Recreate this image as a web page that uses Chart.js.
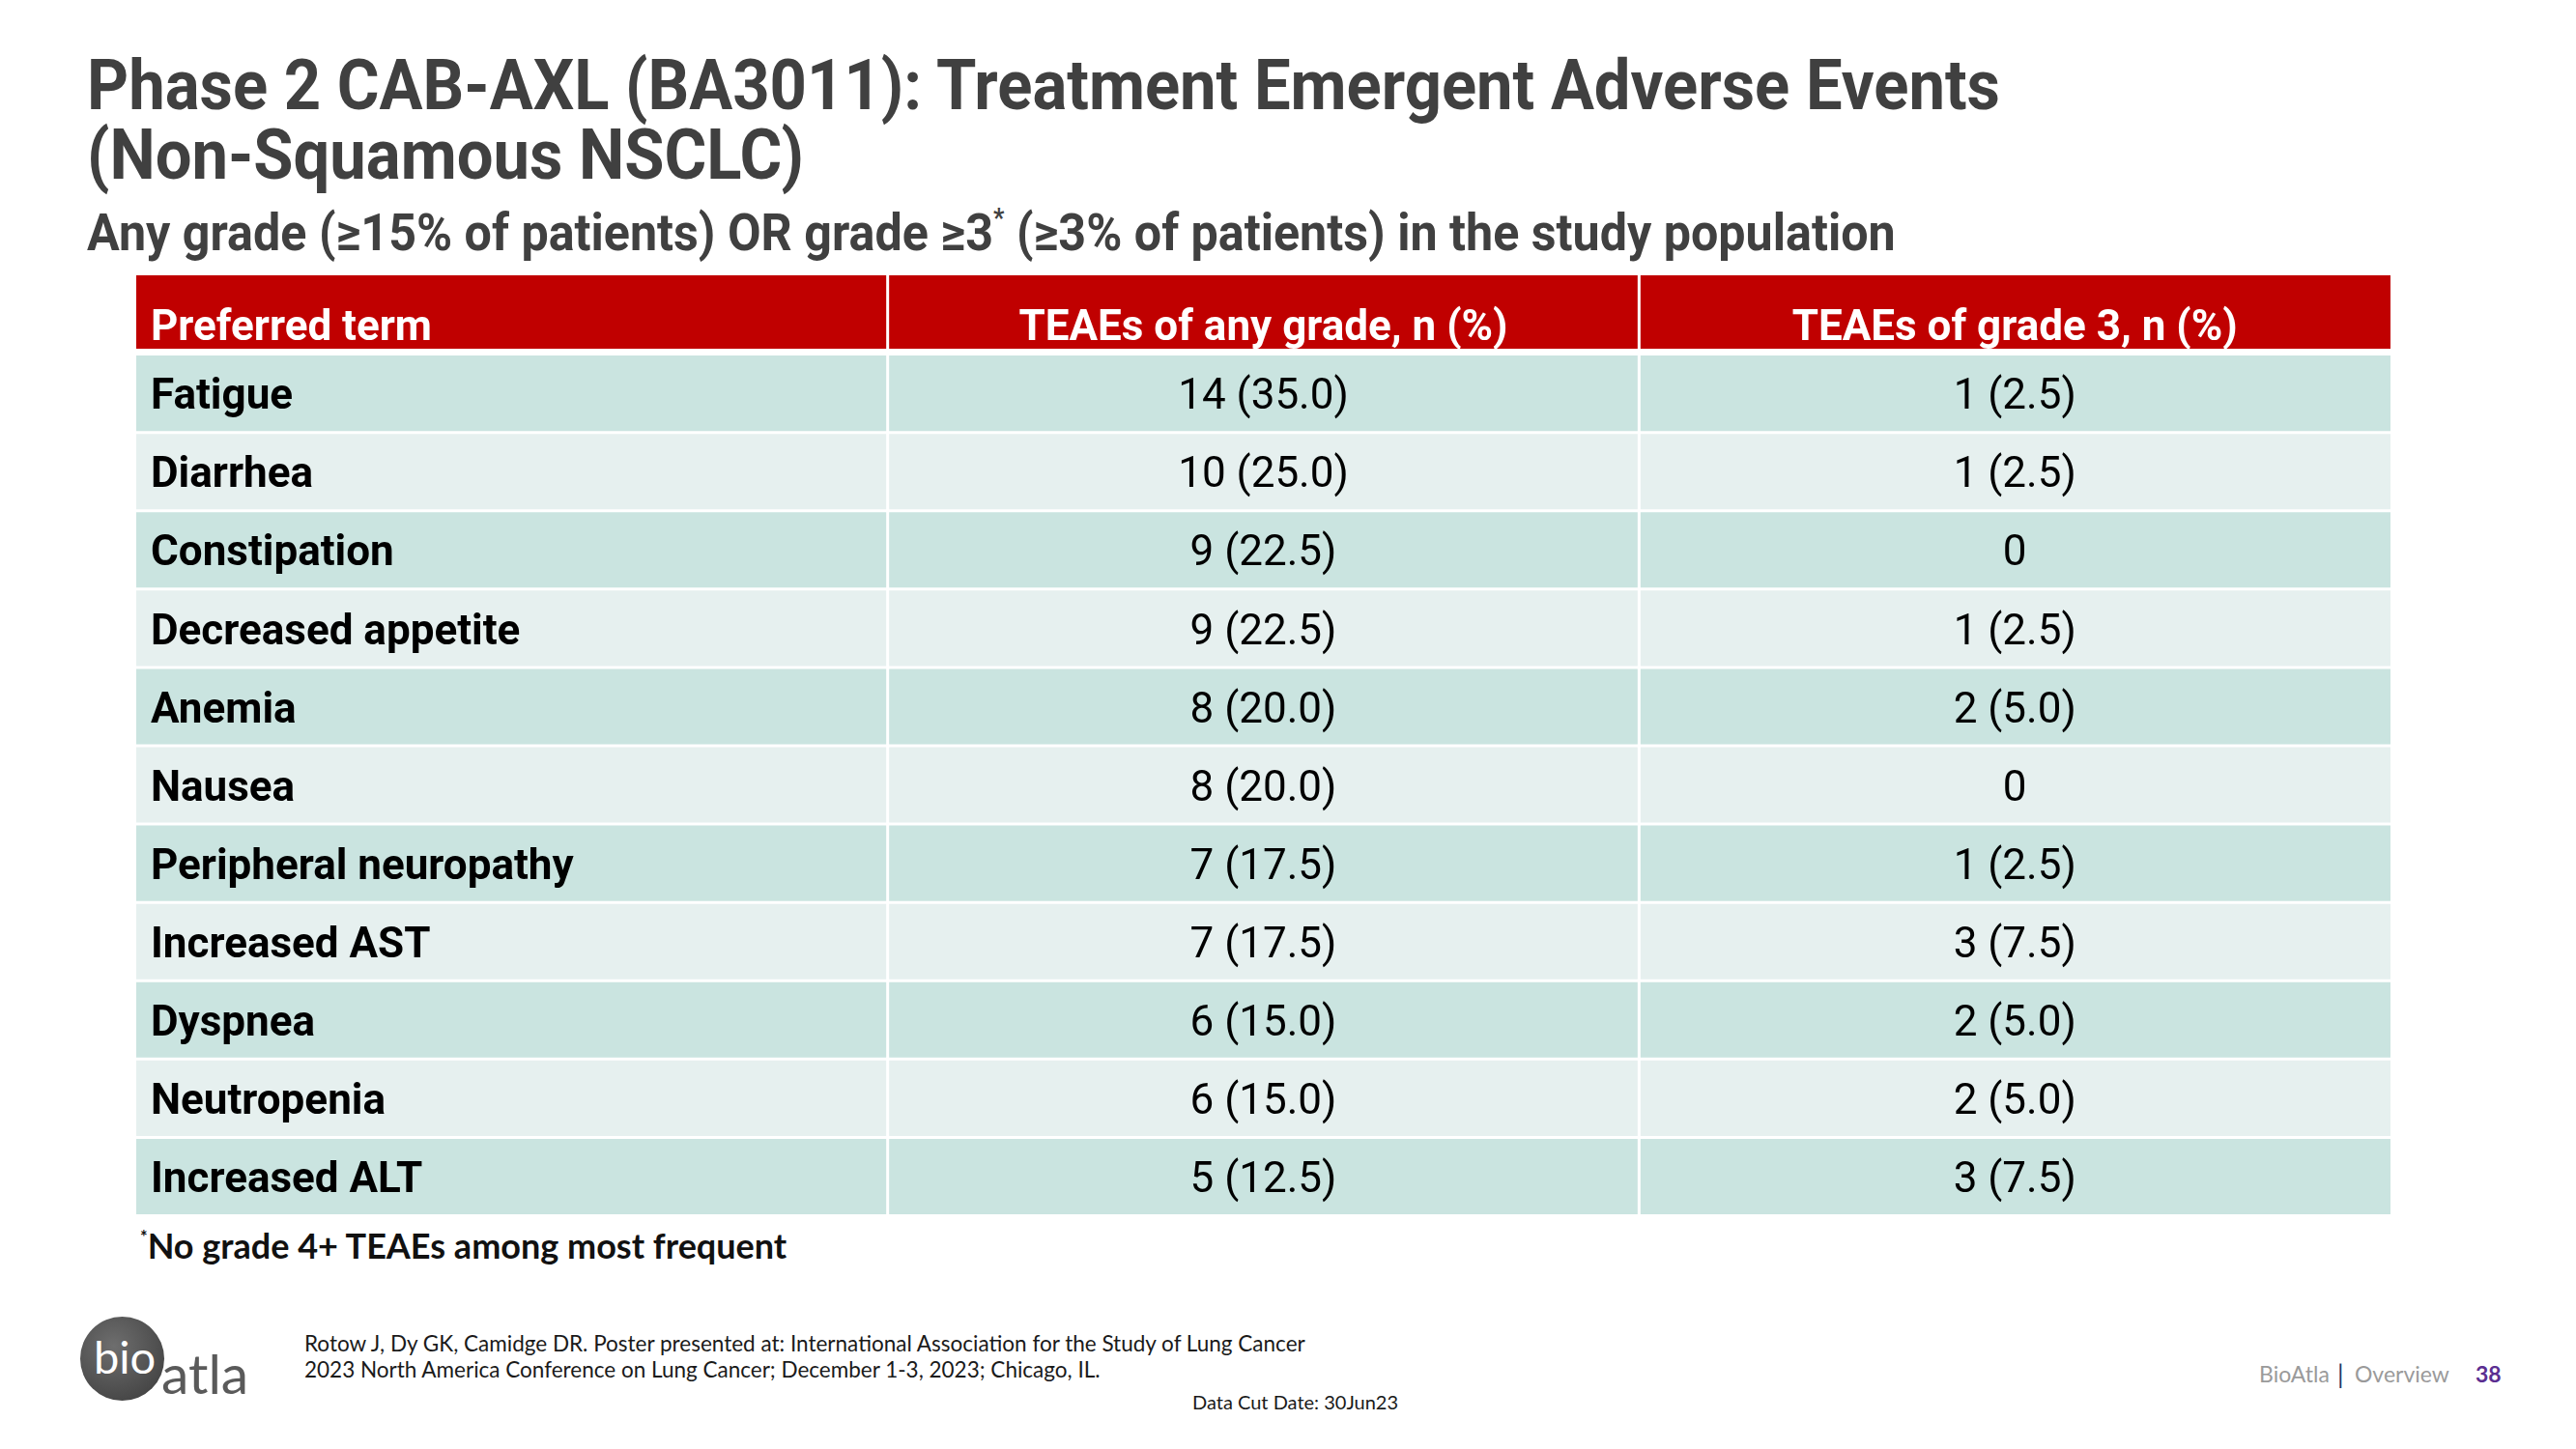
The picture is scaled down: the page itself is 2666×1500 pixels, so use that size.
<!DOCTYPE html>
<html>
<head>
<meta charset="utf-8">
<script src="https://cdn.jsdelivr.net/npm/chart.js@4.4.1/dist/chart.umd.min.js"></script>
<style>
  html, body { margin: 0; padding: 0; background: #fff; }
  body { width: 2666px; height: 1500px; position: relative; overflow: hidden; }
  .abs { position: absolute; white-space: nowrap; }
  .title { font-family: Roboto, sans-serif; font-weight: 700; color: #404040; line-height: normal;
           transform: scaleX(0.93); transform-origin: left top; }
  .foot { font-family: Lato, sans-serif; color: #1a1a1a; line-height: normal; }
  sup { font-size: 0.5em; vertical-align: 0; position: relative; top: -0.9em; }
</style>
</head>
<body>
<div class="abs title" style="left:90px; top:46px; font-size:72px;">Phase 2 CAB-AXL (BA3011): Treatment Emergent Adverse Events</div>
<div class="abs title" style="left:90px; top:118px; font-size:72px;">(Non-Squamous NSCLC)</div>
<div class="abs title" style="left:90px; top:209px; font-size:54px;">Any grade (≥15% of patients) OR grade ≥3<sup>*</sup> (≥3% of patients) in the study population</div>

<canvas id="teae" width="2333" height="973" style="position:absolute; left:141px; top:285px;"></canvas>

<div class="abs foot" style="left:145px; top:1267px; font-size:36px; font-weight:700; color:#111;"><sup>*</sup>No grade 4+ TEAEs among most frequent</div>

<div class="abs" style="left:83px; top:1363px; width:87px; height:87px; border-radius:50%; background: radial-gradient(circle at 40% 35%, #6e6e6e, #3a3a3a);"></div>
<div class="abs" style="left:97px; top:1376px; font-family: Lato, sans-serif; font-size:47px; color:#fff; line-height:normal;">bio</div>
<div class="abs" style="left:167px; top:1387px; font-family: Lato, sans-serif; font-size:57px; color:#5a5a5a; line-height:normal;">atla</div>

<div class="abs foot" style="left:315px; top:1377px; font-size:22.5px; line-height:27px;">Rotow J, Dy GK, Camidge DR. Poster presented at: International Association for the Study of Lung Cancer<br>2023 North America Conference on Lung Cancer; December 1-3, 2023; Chicago, IL.</div>
<div class="abs foot" style="left:1234px; top:1439px; font-size:20px;">Data Cut Date: 30Jun23</div>

<div class="abs" style="left:2338px; top:1408px; font-family: Lato, sans-serif; font-size:23px; color:#9a9a9a; line-height:normal;">BioAtla</div>
<div class="abs" style="left:2419px; top:1406px; font-family: Lato, sans-serif; font-size:26px; color:#1f3864; line-height:normal;">|</div>
<div class="abs" style="left:2437px; top:1408px; font-family: Lato, sans-serif; font-size:23px; color:#9a9a9a; line-height:normal;">Overview</div>
<div class="abs" style="left:2562px; top:1408px; font-family: Lato, sans-serif; font-size:23px; font-weight:700; color:#5b2e91; line-height:normal;">38</div>

<script>
// table contents
const headers = ["Preferred term", "TEAEs of any grade, n (%)", "TEAEs of grade 3, n (%)"];
const terms = ["Fatigue", "Diarrhea", "Constipation", "Decreased appetite", "Anemia", "Nausea",
  "Peripheral neuropathy", "Increased AST", "Dyspnea", "Neutropenia", "Increased ALT"];
const anyGradeN = [14, 10, 9, 9, 8, 8, 7, 7, 6, 6, 5];
const anyGradePct = [35.0, 25.0, 22.5, 22.5, 20.0, 20.0, 17.5, 17.5, 15.0, 15.0, 12.5];
const grade3N = [1, 1, 0, 1, 2, 0, 1, 3, 2, 2, 3];
const grade3Pct = [2.5, 2.5, 0, 2.5, 5.0, 0, 2.5, 7.5, 5.0, 5.0, 7.5];

const fmt = (n, p) => (n === 0 ? "0" : `${n} (${p.toFixed(1)})`);

const rowLabels = ["header"].concat(terms);
const cells = [headers].concat(terms.map((t, i) => [t, fmt(anyGradeN[i], anyGradePct[i]), fmt(grade3N[i], grade3Pct[i])]));

const HEAD_RED = "#c00000";
const ROW_DARK = "#cae4e0";
const ROW_LIGHT = "#e6f0ef";

function cellColor(r) {
  if (r === 0) return HEAD_RED;
  return r % 2 === 1 ? ROW_DARK : ROW_LIGHT;
}

function columnDataset(col) {
  return {
    label: headers[col],
    data: rowLabels.map(() => [col, col + 1]),
    backgroundColor: (c) => cellColor(c.dataIndex),
    borderColor: "#ffffff",
    borderSkipped: false,
    borderWidth: (c) => ({
      left: col === 0 ? 0 : 1.5,
      right: col === 2 ? 0 : 1.5,
      top: c.dataIndex === 0 ? 0 : 2,
      bottom: c.dataIndex === 0 ? 5 : 1,
    }),
    barPercentage: 1,
    categoryPercentage: 1,
    inflateAmount: 0,
  };
}

const cellText = {
  id: "cellText",
  afterDatasetsDraw(chart) {
    const { ctx, scales: { x, y } } = chart;
    const pitch = y.getPixelForValue(1) - y.getPixelForValue(0);
    ctx.save();
    cells.forEach((row, r) => {
      const yc = y.getPixelForValue(r);
      row.forEach((txt, c) => {
        let weight, color, base;
        const size = 44;
        if (r === 0) {
          weight = 700; color = "#ffffff";
          base = yc + pitch / 2 - 14;
        } else {
          weight = c === 0 ? 700 : 400; color = "#000000";
          base = yc + size * 0.711 / 2 + 1;
        }
        ctx.font = `${weight} ${size}px Roboto`;
        ctx.fillStyle = color;
        ctx.textBaseline = "alphabetic";
        if (c === 0) {
          ctx.textAlign = "left";
          ctx.fillText(txt, x.getPixelForValue(0) + 15, base);
        } else {
          ctx.textAlign = "center";
          ctx.fillText(txt, x.getPixelForValue(c + 0.5), base);
        }
      });
    });
    ctx.restore();
  },
};

new Chart(document.getElementById("teae"), {
  type: "bar",
  data: {
    labels: rowLabels,
    datasets: [columnDataset(0), columnDataset(1), columnDataset(2)],
  },
  options: {
    indexAxis: "y",
    responsive: false,
    animation: false,
    layout: { padding: 0 },
    scales: {
      x: { type: "linear", min: 0, max: 3, display: false },
      y: { type: "category", display: false, stacked: true },
    },
    plugins: { legend: { display: false }, tooltip: { enabled: false } },
  },
  plugins: [cellText],
});
</script>
</body>
</html>
